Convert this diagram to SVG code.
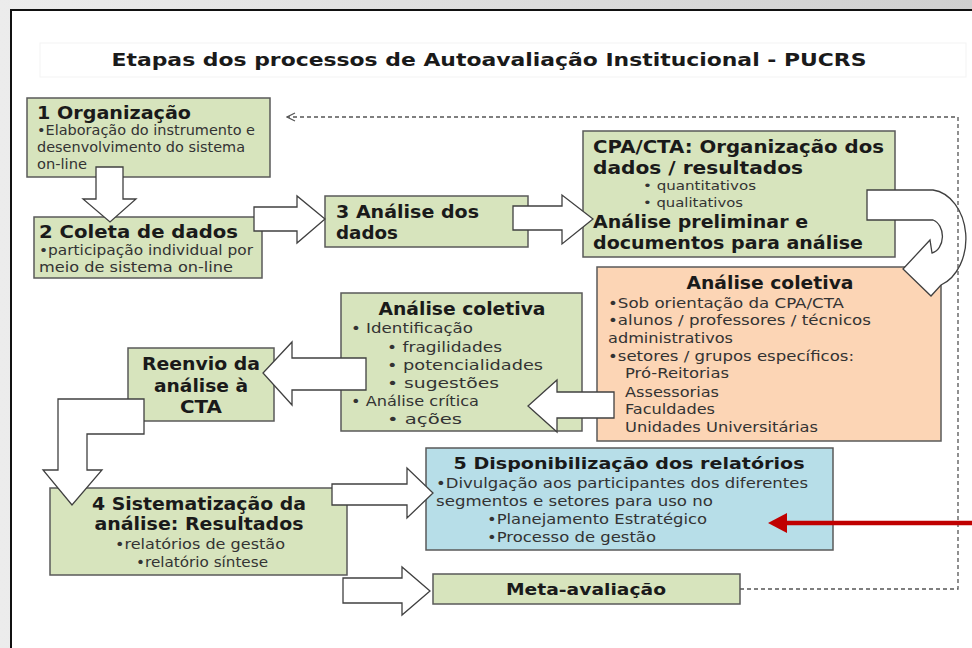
<svg xmlns="http://www.w3.org/2000/svg" width="972" height="648" viewBox="0 0 972 648">
<defs>
<linearGradient id="bgL" x1="0" y1="0" x2="1" y2="0">
<stop offset="0" stop-color="#ececec"/><stop offset="1" stop-color="#cfcfcf"/>
</linearGradient>
<marker id="openArrow" markerWidth="10" markerHeight="10" refX="9" refY="5" orient="auto" markerUnits="userSpaceOnUse">
<path d="M1,1 L9,5 L1,9" fill="none" stroke="#555" stroke-width="1.2"/>
</marker>
</defs>
<style>
text{font-family:"DejaVu Sans","Verdana",sans-serif;fill:#1a1a1a}
.box{stroke:#5a5a5a;stroke-width:1.5}
.green{fill:#d7e4bd}
.orange{fill:#fcd5b5}
.blue{fill:#b7dee8}
.h{font-weight:bold;font-size:17px}
.b{font-size:13.5px;fill:#333}
.m{font-size:14.5px;fill:#333}
.s{font-size:12.5px;fill:#333}
.c{text-anchor:middle}
.blk{fill:#fff;stroke:#404040;stroke-width:1.3;stroke-linejoin:miter}
</style>
<rect x="0" y="0" width="972" height="648" fill="url(#bgL)"/>
<rect x="11" y="10" width="961" height="638" fill="#fff"/>
<path d="M11,648 L11,10 L972,10" fill="none" stroke="#111" stroke-width="2"/>
<rect x="40" y="43" width="926" height="34" fill="none" stroke="#f3f3f3" stroke-width="1"/>
<text x="489" y="66" class="c" style="font-weight:bold;font-size:17.5px" textLength="755" lengthAdjust="spacingAndGlyphs">Etapas dos processos de Autoavaliação Institucional - PUCRS</text>

<g id="n1">
<rect class="box green" x="27" y="98" width="243" height="79"/>
<text x="37" y="119" class="h" textLength="154" lengthAdjust="spacingAndGlyphs">1 Organização</text>
<text x="37" y="135" class="b" textLength="218" lengthAdjust="spacingAndGlyphs">•Elaboração do instrumento e</text>
<text x="37" y="152" class="b" textLength="208" lengthAdjust="spacingAndGlyphs">desenvolvimento do sistema</text>
<text x="37" y="169" class="b" textLength="50" lengthAdjust="spacingAndGlyphs">on-line</text>
</g>
<g id="n2">
<rect class="box green" x="34" y="217" width="228" height="61"/>
<text x="39" y="238" class="h" textLength="199" lengthAdjust="spacingAndGlyphs">2 Coleta de dados</text>
<text x="39" y="255" class="b" textLength="214" lengthAdjust="spacingAndGlyphs">•participação individual por</text>
<text x="39" y="272" class="b" textLength="194" lengthAdjust="spacingAndGlyphs">meio de sistema on-line</text>
</g>
<g id="n3">
<rect class="box green" x="325" y="196" width="203" height="51"/>
<text x="336" y="218" class="h" textLength="143" lengthAdjust="spacingAndGlyphs">3 Análise dos</text>
<text x="336" y="239" class="h" textLength="62" lengthAdjust="spacingAndGlyphs">dados</text>
</g>
<g id="cpa">
<rect class="box green" x="583" y="131" width="312" height="126"/>
<text x="593" y="153" class="h" textLength="291" lengthAdjust="spacingAndGlyphs">CPA/CTA: Organização dos</text>
<text x="593" y="174" class="h" textLength="210" lengthAdjust="spacingAndGlyphs">dados / resultados</text>
<text x="643" y="190" class="s" textLength="113" lengthAdjust="spacingAndGlyphs">• quantitativos</text>
<text x="643" y="207" class="s" textLength="100" lengthAdjust="spacingAndGlyphs">• qualitativos</text>
<text x="593" y="228" class="h" textLength="215" lengthAdjust="spacingAndGlyphs">Análise preliminar e</text>
<text x="593" y="249" class="h" textLength="270" lengthAdjust="spacingAndGlyphs">documentos para análise</text>
</g>
<g id="coletiva1">
<rect class="box orange" x="597" y="267" width="344" height="174"/>
<text x="770" y="289" class="h c" textLength="167" lengthAdjust="spacingAndGlyphs">Análise coletiva</text>
<text x="608" y="308" class="m" textLength="236" lengthAdjust="spacingAndGlyphs">•Sob orientação da CPA/CTA</text>
<text x="608" y="325" class="m" textLength="263" lengthAdjust="spacingAndGlyphs">•alunos / professores / técnicos</text>
<text x="608" y="343" class="m" textLength="125" lengthAdjust="spacingAndGlyphs">administrativos</text>
<text x="608" y="361" class="m" textLength="246" lengthAdjust="spacingAndGlyphs">•setores / grupos específicos:</text>
<text x="625" y="378" class="m" textLength="104" lengthAdjust="spacingAndGlyphs">Pró-Reitorias</text>
<text x="625" y="397" class="m" textLength="94" lengthAdjust="spacingAndGlyphs">Assessorias</text>
<text x="625" y="414" class="m" textLength="90" lengthAdjust="spacingAndGlyphs">Faculdades</text>
<text x="625" y="432" class="m" textLength="193" lengthAdjust="spacingAndGlyphs">Unidades Universitárias</text>
</g>
<g id="coletiva2">
<rect class="box green" x="341" y="293" width="241" height="138"/>
<text x="462" y="315" class="h c" textLength="167" lengthAdjust="spacingAndGlyphs">Análise coletiva</text>
<text x="351" y="333" class="m" textLength="122" lengthAdjust="spacingAndGlyphs">• Identificação</text>
<text x="387" y="352" class="m" textLength="115" lengthAdjust="spacingAndGlyphs">• fragilidades</text>
<text x="387" y="370" class="m" textLength="156" lengthAdjust="spacingAndGlyphs">• potencialidades</text>
<text x="387" y="388" class="m" textLength="112" lengthAdjust="spacingAndGlyphs">• sugestões</text>
<text x="351" y="406" class="m" textLength="128" lengthAdjust="spacingAndGlyphs">• Análise crítica</text>
<text x="387" y="424" class="m" textLength="75" lengthAdjust="spacingAndGlyphs">• ações</text>
</g>
<g id="reenvio">
<rect class="box green" x="128" y="348" width="146" height="73"/>
<text x="201" y="370" class="h c" textLength="118" lengthAdjust="spacingAndGlyphs">Reenvio da</text>
<text x="201" y="392" class="h c" textLength="94" lengthAdjust="spacingAndGlyphs">análise à</text>
<text x="201" y="413" class="h c" textLength="42" lengthAdjust="spacingAndGlyphs">CTA</text>
</g>
<g id="n4">
<rect class="box green" x="50" y="488" width="297" height="87"/>
<text x="199" y="510" class="h c" textLength="214" lengthAdjust="spacingAndGlyphs">4 Sistematização da</text>
<text x="199" y="530" class="h c" textLength="209" lengthAdjust="spacingAndGlyphs">análise: Resultados</text>
<text x="200" y="549" class="m c" textLength="170" lengthAdjust="spacingAndGlyphs">•relatórios de gestão</text>
<text x="202" y="567" class="m c" textLength="132" lengthAdjust="spacingAndGlyphs">•relatório síntese</text>
</g>
<g id="n5">
<rect class="box blue" x="426" y="448" width="407" height="102"/>
<text x="629" y="469" class="c" style="font-weight:bold;font-size:16.5px" textLength="351" lengthAdjust="spacingAndGlyphs">5 Disponibilização dos relatórios</text>
<text x="436" y="488" class="m" textLength="372" lengthAdjust="spacingAndGlyphs">•Divulgação aos participantes dos diferentes</text>
<text x="436" y="506" class="m" textLength="277" lengthAdjust="spacingAndGlyphs">segmentos e setores para uso no</text>
<text x="487" y="524" class="m" textLength="220" lengthAdjust="spacingAndGlyphs">•Planejamento Estratégico</text>
<text x="487" y="542" class="m" textLength="169" lengthAdjust="spacingAndGlyphs">•Processo de gestão</text>
</g>
<g id="meta">
<rect class="box green" x="433" y="574" width="307" height="30"/>
<text x="586" y="595" class="c" style="font-weight:bold;font-size:16.5px" textLength="160" lengthAdjust="spacingAndGlyphs">Meta-avaliação</text>
</g>

<g id="connectors">
<path class="blk" d="M96,167 L123,167 L123,199 L136,199 L110,222 L83,199 L96,199 Z"/>
<path class="blk" d="M254,207 L297,207 L297,196 L325,219 L297,243 L297,231 L254,231 Z"/>
<path class="blk" d="M513,206 L562,206 L562,195 L593,219 L562,244 L562,230 L513,230 Z"/>
<path class="blk" d="M867,190 L933,190 A37,49 0 0 1 941,285 L931,296 L903,269 L930,240 L932,253 A13,17 0 0 0 933,220 L867,220 Z"/>
<path class="blk" d="M614,392 L557,392 L557,380 L528,406 L557,432 L557,418 L614,418 Z"/>
<path class="blk" d="M366,358 L292,358 L292,342 L263,373 L292,405 L292,390 L366,390 Z"/>
<path class="blk" d="M144,399 L58,399 L58,470 L43,470 L72,505 L102,470 L87,470 L87,434 L144,434 Z"/>
<path class="blk" d="M332,484 L407,484 L407,468 L433,493 L407,518 L407,505 L332,505 Z"/>
<path class="blk" d="M343,578 L402,578 L402,567 L430,591 L402,615 L402,603 L343,603 Z"/>
<polyline points="740,589 958,589 958,117 287,117" fill="none" stroke="#555" stroke-width="1.3" stroke-dasharray="4,3" marker-end="url(#openArrow)"/>
<line x1="972" y1="523" x2="784" y2="523" stroke="#c00000" stroke-width="4.5"/>
<polygon points="768,523 787,513 787,533" fill="#c00000"/>
</g>
</svg>
